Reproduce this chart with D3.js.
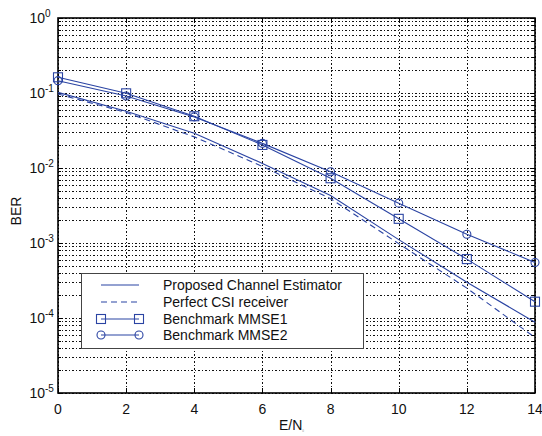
<!DOCTYPE html>
<html>
<head>
<meta charset="utf-8">
<script src="https://cdn.jsdelivr.net/npm/d3@7"></script>
<style>
  html, body { margin: 0; padding: 0; background: #fff; }
  svg { display: block; font-family: "Liberation Sans", Arial, sans-serif; }
</style>
</head>
<body>
<svg id="chart" width="542" height="436"></svg>
<script>
// Eb/N0 points (dB)
const snr = [0, 2, 4, 6, 8, 10, 12, 14];
// BER curves
const proposed = [0.102, 0.057, 0.029, 0.0115, 0.0043, 0.00111, 0.00030, 0.000088];
const perfectCSI = [0.097, 0.055, 0.026, 0.0105, 0.0039, 0.00098, 0.00025, 0.000055];
const mmse1 = [0.162, 0.099, 0.049, 0.0203, 0.0073, 0.0021, 0.00061, 0.000165];
const mmse2 = [0.146, 0.091, 0.048, 0.0213, 0.0089, 0.0034, 0.00131, 0.00055];
// axis ticks
const xTicks = [0, 2, 4, 6, 8, 10, 12, 14];
const yExponents = [0, -1, -2, -3, -4, -5];
const legendLabels = ["Proposed Channel Estimator", "Perfect CSI receiver", "Benchmark MMSE1", "Benchmark MMSE2"];

const blue = "#2b44a3";
const fs = 14;
const svg = d3.select("#chart");
const m = { left: 58, right: 535, top: 18, bottom: 393 };

const x = d3.scaleLinear().domain([0, 14]).range([m.left, m.right]);
const y = d3.scaleLog().domain([1e-5, 1]).range([m.bottom, m.top]);

// grid: decades plus 2..9 minor lines
const minorVals = [];
yExponents.slice(1).forEach(e => {
  for (let k = 2; k <= 9; k++) minorVals.push(k * Math.pow(10, e));
});
const grid = svg.append("g").attr("stroke", "#111").attr("stroke-width", 1)
  .attr("stroke-dasharray", "1.5,2").attr("fill", "none").attr("shape-rendering", "crispEdges");
grid.selectAll(".gy").data(minorVals.concat(yExponents.map(e => Math.pow(10, e))))
  .join("line")
  .attr("x1", m.left).attr("x2", m.right)
  .attr("y1", d => Math.round(y(d)) + 0.5).attr("y2", d => Math.round(y(d)) + 0.5);
grid.selectAll(".gx").data(xTicks).join("line")
  .attr("x1", d => Math.round(x(d)) + 0.5).attr("x2", d => Math.round(x(d)) + 0.5)
  .attr("y1", m.top).attr("y2", m.bottom);

// inward ticks on all four sides
const ticks = svg.append("g").attr("stroke", "#000").attr("stroke-width", 1);
xTicks.forEach(t => {
  const px = Math.round(x(t)) + 0.5;
  ticks.append("line").attr("x1", px).attr("x2", px).attr("y1", m.bottom).attr("y2", m.bottom - 5);
  ticks.append("line").attr("x1", px).attr("x2", px).attr("y1", m.top).attr("y2", m.top + 5);
});
yExponents.forEach(e => {
  const py = Math.round(y(Math.pow(10, e))) + 0.5;
  ticks.append("line").attr("x1", m.left).attr("x2", m.left + 5).attr("y1", py).attr("y2", py);
  ticks.append("line").attr("x1", m.right).attr("x2", m.right - 5).attr("y1", py).attr("y2", py);
});
minorVals.forEach(v => {
  const py = Math.round(y(v)) + 0.5;
  ticks.append("line").attr("x1", m.left).attr("x2", m.left + 3).attr("y1", py).attr("y2", py);
  ticks.append("line").attr("x1", m.right).attr("x2", m.right - 3).attr("y1", py).attr("y2", py);
});

// frame
svg.append("rect").attr("x", m.left).attr("y", m.top)
  .attr("width", m.right - m.left).attr("height", m.bottom - m.top)
  .attr("fill", "none").attr("stroke", "#000").attr("stroke-width", 1.6);

// tick labels
svg.append("g").selectAll("text").data(xTicks).join("text")
  .attr("x", d => x(d)).attr("y", 414).attr("text-anchor", "middle")
  .attr("font-size", fs).attr("fill", "#111").text(d => d);

const yl = svg.append("g").selectAll("text").data(yExponents).join("text")
  .attr("x", 45).attr("y", d => y(Math.pow(10, d)) + 5)
  .attr("text-anchor", "end").attr("font-size", fs).attr("fill", "#111");
yl.text("10");
svg.append("g").selectAll("text").data(yExponents).join("text")
  .attr("x", 45).attr("y", d => y(Math.pow(10, d)) - 1)
  .attr("font-size", 10).attr("fill", "#111")
  .text(d => d === 0 ? "0" : "-" + (-d));

// axis titles
svg.append("text").attr("transform", "translate(21,211) rotate(-90)")
  .attr("text-anchor", "middle").attr("font-size", fs).attr("fill", "#111").text("BER");
const xt = svg.append("text").attr("x", 279).attr("y", 430)
  .attr("font-size", fs).attr("fill", "#111");
xt.append("tspan").text("E/N");
xt.append("tspan").attr("dy", 2).attr("font-size", 3).attr("fill", "#888").text("0");

// curves
const line = d3.line().x((d, i) => x(snr[i])).y(d => y(d));
const plot = svg.append("g");
plot.append("path").datum(proposed).attr("d", line)
  .attr("fill", "none").attr("stroke", blue).attr("stroke-width", 1.1);
plot.append("path").datum(perfectCSI).attr("d", line)
  .attr("fill", "none").attr("stroke", blue).attr("stroke-width", 1.1).attr("stroke-dasharray", "6,4");
plot.append("path").datum(mmse1).attr("d", line)
  .attr("fill", "none").attr("stroke", blue).attr("stroke-width", 1.1);
plot.append("path").datum(mmse2).attr("d", line)
  .attr("fill", "none").attr("stroke", blue).attr("stroke-width", 1.1);

plot.selectAll(".sq").data(mmse1).join("rect")
  .attr("x", (d, i) => x(snr[i]) - 4.5).attr("y", d => y(d) - 4.5)
  .attr("width", 9).attr("height", 9)
  .attr("fill", "none").attr("stroke", blue).attr("stroke-width", 1.1);
plot.selectAll(".ci").data(mmse2).join("circle")
  .attr("cx", (d, i) => x(snr[i])).attr("cy", d => y(d)).attr("r", 4)
  .attr("fill", "none").attr("stroke", blue).attr("stroke-width", 1.1);

// legend
const lg = svg.append("g");
lg.append("rect").attr("x", 81.5).attr("y", 273.5).attr("width", 282).attr("height", 75)
  .attr("fill", "#fff").attr("stroke", "#444").attr("stroke-width", 1);
const rowY = [285, 302, 319, 335];
legendLabels.forEach((lab, i) => {
  const ly = rowY[i];
  const ln = lg.append("line").attr("x1", 101).attr("x2", 139).attr("y1", ly).attr("y2", ly)
    .attr("stroke", blue).attr("stroke-width", 1.1);
  if (i === 1) ln.attr("stroke-dasharray", "6,4");
  if (i === 2) {
    [101, 139].forEach(cx => lg.append("rect").attr("x", cx - 4.5).attr("y", ly - 4.5)
      .attr("width", 9).attr("height", 9).attr("fill", "none").attr("stroke", blue).attr("stroke-width", 1.1));
  }
  if (i === 3) {
    [101, 139].forEach(cx => lg.append("circle").attr("cx", cx).attr("cy", ly).attr("r", 4)
      .attr("fill", "none").attr("stroke", blue).attr("stroke-width", 1.1));
  }
  lg.append("text").attr("x", 163).attr("y", ly + 5).attr("font-size", fs)
    .attr("fill", "#111").text(lab);
});
</script>
</body>
</html>
